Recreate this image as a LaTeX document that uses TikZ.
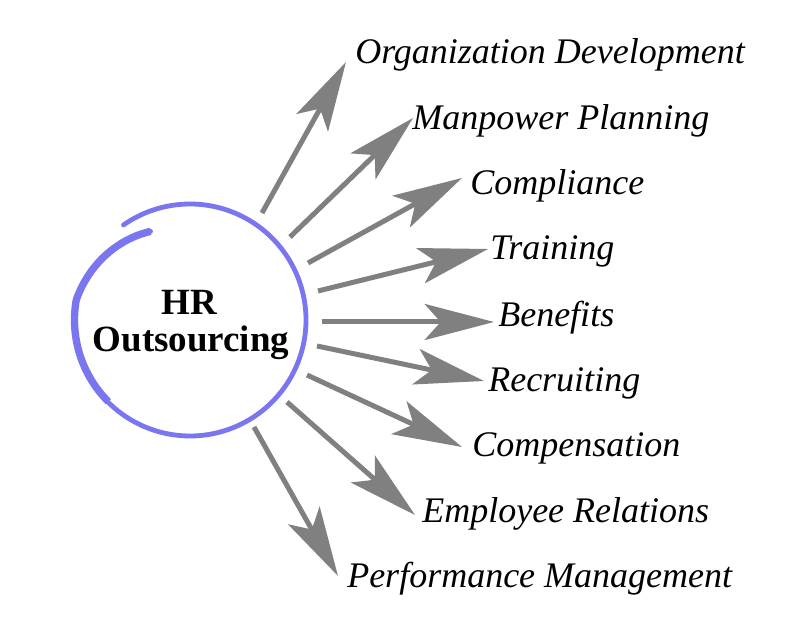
\documentclass[tikz,border=0pt]{standalone}
\usepackage{fontspec}
\setmainfont{Liberation Serif}
\usetikzlibrary{arrows.meta}
\definecolor{arrowgray}{HTML}{808080}
\definecolor{ringblue}{HTML}{7A76F0}
\tikzset{
  arr/.style={draw=arrowgray, line width=3.75pt, -{Stealth[length=52pt, width=27pt, inset=12pt]}},
  lbl/.style={anchor=base west, inner sep=0pt, font=\fontsize{27pt}{27pt}\selectfont\itshape},
  ttl/.style={anchor=base, inner sep=0pt, font=\fontsize{27.75pt}{27.75pt}\selectfont\bfseries},
  ring/.style={draw=ringblue, line width=3.6pt, line cap=round}
}
\begin{document}
\begin{tikzpicture}[x=0.75pt, y=-0.75pt]
\useasboundingbox (0,0) rectangle (800,630);
\fill[white] (0,0) rectangle (800,630);
% ring
\draw[ring] plot[domain=114:485, samples=160, smooth] ({190+min(116,97+19*(\x-114)/56)*cos(\x)}, {320-min(116,97+19*(\x-114)/56)*sin(\x)});
\draw[ring, line width=5.5pt, line cap=butt] plot[domain=114:225, samples=60, smooth] ({190+min(115.5,97+18.5*(\x-114)/56)*cos(\x)}, {320-min(115.5,97+18.5*(\x-114)/56)*sin(\x)});
% title
\node[ttl] (hr) at (189,315) {HR};
\node[ttl] (hrb) at (191,352) {Outsourcing};
% labels
\node[lbl] (l1) at (355,64) {Organization Development};
\node[lbl] (l2) at (412,130) {Manpower Planning};
\node[lbl] (l3) at (470,195) {Compliance};
\node[lbl] (l4) at (490,260) {Training};
\node[lbl] (l5) at (498,327) {Benefits};
\node[lbl] (l6) at (488,392) {Recruiting};
\node[lbl] (l7) at (472,457) {Compensation};
\node[lbl] (l8) at (422,523) {Employee Relations};
\node[lbl] (l9) at (347,588) {Performance Management};
% arrow ends
\coordinate (s1) at (262,213); \coordinate (t1) at (346,62);
\coordinate (s2) at (290,237); \coordinate (t2) at (413,118);
\coordinate (s3) at (308,263); \coordinate (t3) at (462,178);
\coordinate (s4) at (318,291); \coordinate (t4) at (488,249);
\coordinate (s5) at (322,322); \coordinate (t5) at (494,322);
\coordinate (s6) at (317,346); \coordinate (t6) at (484,381);
\coordinate (s7) at (307,375); \coordinate (t7) at (462,447);
\coordinate (s8) at (287,402); \coordinate (t8) at (415,515);
\coordinate (s9) at (254,427); \coordinate (t9) at (338,576);
\foreach \i in {1,...,9} { \draw[arr] (s\i) -- (t\i); }
\end{tikzpicture}
\end{document}
